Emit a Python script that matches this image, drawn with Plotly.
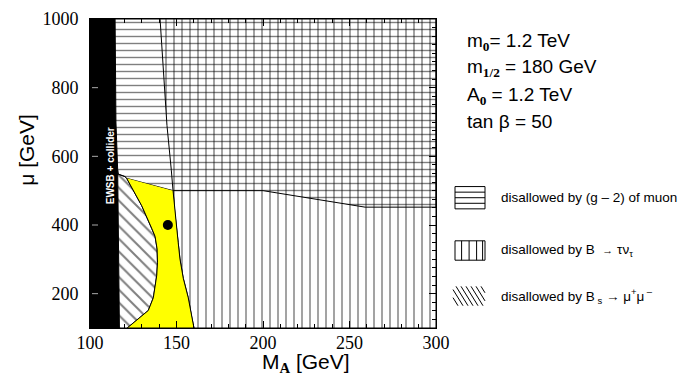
import plotly.graph_objects as go

# ---- regions in the (M_A, mu) plane, GeV ----
# EWSB + collider excluded strip
ewsb_ma = [100, 114.5, 115.0, 116.0, 117.0, 100]
ewsb_mu = [1000, 1000, 700, 560, 100, 100]

# allowed strip: left and right borders, top to bottom
allowed_left_ma = [121.2, 129.9, 135.7, 137.6, 138.8, 139.0, 138.6, 136.6, 133.7, 127.0, 122.1, 121.5]
allowed_left_mu = [536, 456, 390, 367, 330, 290, 254, 188, 151, 123, 104, 100]
allowed_right_ma = [148.0, 149.1, 151.0, 152.0, 153.9, 156.8, 158.8, 160.1]
allowed_right_mu = [500, 433, 348, 301, 245, 188, 132, 100]

# (g-2)_mu lower border, left to right
g2_ma = [114.5, 116.4, 120.2, 121.2, 148.0, 200, 259, 300]
g2_mu = [548, 548, 541, 536, 500, 500, 452, 452]

# B -> tau nu border above the allowed strip
taunu_ma = [140.5, 144.5, 147.0]
taunu_mu = [1000, 690, 560]

# Bs -> mu mu border above the allowed strip
bsmumu_ma = [116.0, 116.4, 120.2]
bsmumu_mu = [560, 548, 541]

# benchmark point
bench_ma = [145]
bench_mu = [400]

x_ticks = [100, 150, 200, 250, 300]
y_ticks = [200, 400, 600, 800, 1000]

# frame of the plotting area in pixels
L, R, T, B = 90, 436, 9, 328
W, H = 681, 385


def fx(p):
    return (p - L) / (R - L)


def fy(p):
    return (B - p) / (B - T)


fig = go.Figure()

hatch = dict(fgcolor="black", bgcolor="rgba(0,0,0,0)")

fig.add_trace(go.Scatter(
    x=g2_ma + [300, 114.5], y=g2_mu + [1000, 1000],
    fill="toself", fillcolor="rgba(0,0,0,0)", mode="lines",
    line=dict(color="black", width=1),
    fillpattern=dict(shape="-", size=7, solidity=0.2, **hatch),
    hoverinfo="skip", showlegend=False))

fig.add_trace(go.Scatter(
    x=taunu_ma + allowed_right_ma + [300, 300],
    y=taunu_mu + allowed_right_mu + [100, 1000],
    fill="toself", fillcolor="rgba(0,0,0,0)", mode="lines",
    line=dict(color="black", width=1),
    fillpattern=dict(shape="|", size=8, solidity=0.18, **hatch),
    hoverinfo="skip", showlegend=False))

fig.add_trace(go.Scatter(
    x=bsmumu_ma + allowed_left_ma + [117.0],
    y=bsmumu_mu + allowed_left_mu + [100],
    fill="toself", fillcolor="rgba(0,0,0,0)", mode="lines",
    line=dict(color="black", width=1),
    fillpattern=dict(shape="\\", size=9, solidity=0.22, **hatch),
    hoverinfo="skip", showlegend=False))

fig.add_trace(go.Scatter(
    x=allowed_left_ma + allowed_right_ma[::-1],
    y=allowed_left_mu + allowed_right_mu[::-1],
    fill="toself", fillcolor="#ffff00", mode="lines",
    line=dict(color="black", width=1),
    hoverinfo="skip", showlegend=False))

fig.add_trace(go.Scatter(
    x=ewsb_ma, y=ewsb_mu, fill="toself", fillcolor="black", mode="lines",
    line=dict(color="black", width=1), hoverinfo="skip", showlegend=False))

fig.add_trace(go.Scatter(
    x=bench_ma, y=bench_mu, mode="markers",
    marker=dict(color="black", size=10), hoverinfo="skip", showlegend=False))

serif = "Times New Roman, Liberation Serif, Times, serif"
tickfont = dict(family=serif, size=18, color="black")
fig.update_xaxes(
    range=[100, 300], tickvals=x_ticks, ticks="inside", ticklen=7,
    tickcolor="black", showline=True, linecolor="black", linewidth=1,
    mirror="ticks", showgrid=False, zeroline=False, tickfont=tickfont,
    ticklabelstandoff=-2, ticklabeloverflow="allow",
    minor=dict(dtick=10, tick0=100, ticks="inside", ticklen=4, tickcolor="black"))
fig.update_yaxes(
    range=[100, 1000], tickvals=y_ticks, ticks="inside", ticklen=7,
    tickcolor="black", showline=True, linecolor="black", linewidth=1,
    mirror="ticks", showgrid=False, zeroline=False, tickfont=tickfont,
    ticklabelstandoff=7, ticklabeloverflow="allow",
    minor=dict(dtick=25, tick0=100, ticks="inside", ticklen=4, tickcolor="black"))

sans = "Arial, Liberation Sans, sans-serif"
sub_style = "font-family:Times New Roman, Liberation Serif, serif;font-weight:bold"

ann = []
# axis titles
ann.append(dict(x=fx(306), y=fy(364), xref="paper", yref="paper",
                text=f"M<sub><span style=\"{sub_style}\">A</span></sub> [GeV]",
                showarrow=False, xanchor="center", yanchor="middle",
                font=dict(family=sans, size=21, color="black")))
ann.append(dict(x=fx(27), y=fy(144), xref="paper", yref="paper",
                text="μ [GeV]", textangle=-90, showarrow=False,
                xanchor="center", yanchor="middle",
                font=dict(family=sans, size=21, color="black")))
# label inside the black strip
ann.append(dict(x=fx(110), y=fy(161), xref="paper", yref="paper",
                text="<b>EWSB + collider</b>", textangle=-90, showarrow=False,
                xanchor="center", yanchor="middle",
                font=dict(family=sans, size=10, color="white")))

# model parameters
params = [
    (33, f"m<sub><span style=\"{sub_style}\">0</span></sub>= 1.2 TeV"),
    (60, f"m<sub><span style=\"{sub_style}\">1/2</span></sub> = 180 GeV"),
    (89, f"A<sub><span style=\"{sub_style}\">0</span></sub> = 1.2 TeV"),
    (115, "tan β = 50"),
]
for yy, txt in params:
    ann.append(dict(x=fx(465), y=fy(yy), xref="paper", yref="paper", text=txt,
                    showarrow=False, xanchor="left", yanchor="middle",
                    font=dict(family=sans, size=19, color="black")))

# legend entries
legend_text = [
    (193, "disallowed by (g – 2) of muon"),
    (248, "disallowed by B  <span style=\"font-size:11px\">→</span> τν<sub>τ</sub>"),
    (295, "disallowed by B<sub> s</sub> → μ<sup>+</sup>μ<sup> –</sup>"),
]
for yy, txt in legend_text:
    ann.append(dict(x=fx(499), y=fy(yy), xref="paper", yref="paper", text=txt,
                    showarrow=False, xanchor="left", yanchor="middle",
                    font=dict(family=sans, size=13.5, color="black")))

shapes = []


def seg(x0, y0, x1, y1, w=1, color="black"):
    shapes.append(dict(type="line", xref="paper", yref="paper",
                       x0=fx(x0), y0=fy(y0), x1=fx(x1), y1=fy(y1),
                       line=dict(color=color, width=w)))


def box(x0, y0, x1, y1):
    shapes.append(dict(type="rect", xref="paper", yref="paper",
                       x0=fx(x0), y0=fy(y0), x1=fx(x1), y1=fy(y1),
                       line=dict(color="black", width=1), fillcolor="white"))


# horizontal-hatch key
box(455, 182, 485, 205)
for f in (0.25, 0.5, 0.75):
    yy = 182 + f * 23
    seg(455, yy, 485, yy)
# vertical-hatch key
box(455, 238, 485, 258)
for f in (0.22, 0.47, 0.72, 0.92):
    xx = 455 + f * 30
    seg(xx, 238, xx, 258)
# diagonal-hatch key
bx0, by0, bx1, by1 = 453, 285, 485, 305
bw, bh = bx1 - bx0, by1 - by0
dx = 12.0
c = -dx
while c < bw:
    xs, ys = c, 0.0
    xe, ye = c + dx, bh
    if xs < 0:
        ys = -xs / dx * bh
        xs = 0.0
    if xe > bw:
        ye = (bw - c) / dx * bh
        xe = bw
    if ye > ys:
        seg(bx0 + xs, by0 + ys, bx0 + xe, by0 + ye)
    c += 5.0

# light tick marks over the black strip
for v in y_ticks[:-1]:
    yy = B - (v - 100) / 900 * (B - T)
    seg(L + 2, yy, L + 8, yy, w=1, color="#aaaaaa")

fig.update_layout(
    width=W, height=H,
    margin=dict(l=L, r=W - R, t=T, b=H - B),
    paper_bgcolor="white", plot_bgcolor="white",
    annotations=ann, shapes=shapes,
)

fig.write_html("out.html")
